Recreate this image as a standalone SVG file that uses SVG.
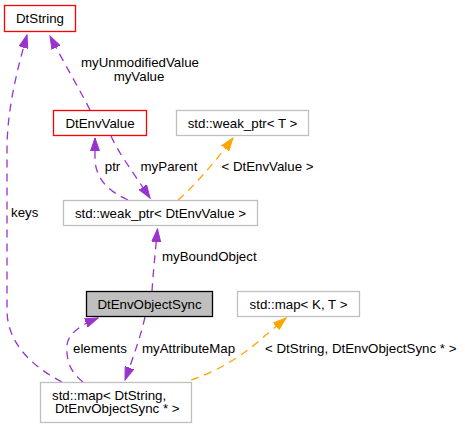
<svg xmlns="http://www.w3.org/2000/svg" width="465" height="429" viewBox="0 0 465 429">
<defs>
<style>
text{font-family:"Liberation Sans",Arial,sans-serif;font-size:13.3px;fill:#000}
.c{text-anchor:middle}
.box{fill:#fff;stroke:#bfbfbf;stroke-width:1.3}
.red{fill:#fff;stroke:#ff0000;stroke-width:1.3}
.cur{fill:#bfbfbf;stroke:#000;stroke-width:1.3}
.p{fill:none;stroke:#9a32cd;stroke-width:1.3;stroke-dasharray:8,6}
.o{fill:none;stroke:#ffa500;stroke-width:1.3;stroke-dasharray:8,6}
</style>
<marker id="ap" markerUnits="userSpaceOnUse" markerWidth="14" markerHeight="10" refX="13" refY="5" orient="auto" viewBox="0 0 14 10"><path d="M0,0.5 L13,5 L0,9.5 z" fill="#9a32cd" stroke="#9a32cd"/></marker>
<marker id="ao" markerUnits="userSpaceOnUse" markerWidth="14" markerHeight="10" refX="13" refY="5" orient="auto" viewBox="0 0 14 10"><path d="M0,0.5 L13,5 L0,9.5 z" fill="#ffa500" stroke="#ffa500"/></marker>
</defs>
<rect width="465" height="429" fill="#fff"/>
<g id="edges">
<path class="p" d="M90,110 C80,90 65,65 50,36" marker-end="url(#ap)"/>
<text class="c" x="140" y="66.5">myUnmodifiedValue</text>
<text class="c" x="139" y="80.5">myValue</text>
<path class="p" d="M62,382 C35,368 7,345 7,310 L7,150 C7,110 17,70 27,35" marker-end="url(#ap)"/>
<text x="11" y="217">keys</text>
<path class="p" d="M128,200 C110,192 96,180 95,160 L95,138" marker-end="url(#ap)"/>
<text class="c" x="112.5" y="171">ptr</text>
<path class="p" d="M111,136 C118,152 130,168 150,198" marker-end="url(#ap)"/>
<text class="c" x="169" y="171">myParent</text>
<path class="o" d="M178,200 C192,188 212,166 233,138" marker-end="url(#ao)"/>
<text class="c" x="267.5" y="171">&lt; DtEnvValue &gt;</text>
<path class="p" d="M152,291 C153,275 155,255 157.5,229" marker-end="url(#ap)"/>
<text x="162" y="261">myBoundObject</text>
<path class="p" d="M83,382 C70,372 66,360 67,345 C68,335 78,326 98,318" marker-end="url(#ap)"/>
<text x="73" y="353">elements</text>
<path class="p" d="M145,317 C141,335 134,355 125,380" marker-end="url(#ap)"/>
<text x="142" y="353">myAttributeMap</text>
<path class="o" d="M191,380 C215,372 240,358 260,340 L286,318" marker-end="url(#ao)"/>
<text x="265" y="353">&lt; DtString, DtEnvObjectSync * &gt;</text>
</g>
<g id="DtString">
<rect class="red" x="4.5" y="5.5" width="71" height="26"/>
<text class="c" x="40" y="23">DtString</text>
</g>
<g id="DtEnvValue">
<rect class="red" x="53.5" y="110.5" width="93" height="25"/>
<text class="c" x="100" y="127.5">DtEnvValue</text>
</g>
<g id="weak_ptr_T">
<rect class="box" x="176.5" y="110.5" width="132" height="25"/>
<text class="c" x="242.5" y="127.5">std::weak_ptr&lt; T &gt;</text>
</g>
<g id="weak_ptr_DtEnvValue">
<rect class="box" x="63.5" y="200.5" width="194" height="25"/>
<text class="c" x="160.5" y="217.5">std::weak_ptr&lt; DtEnvValue &gt;</text>
</g>
<g id="DtEnvObjectSync">
<rect class="cur" x="86.5" y="291.5" width="126" height="25"/>
<text class="c" x="149.5" y="308.5">DtEnvObjectSync</text>
</g>
<g id="map_K_T">
<rect class="box" x="237.5" y="291.5" width="122" height="25"/>
<text class="c" x="298.5" y="308.5">std::map&lt; K, T &gt;</text>
</g>
<g id="map_DtString">
<rect class="box" x="40.5" y="382.5" width="151" height="40"/>
<text x="52" y="399.5">std::map&lt; DtString,</text>
<text x="55" y="413">DtEnvObjectSync * &gt;</text>
</g>
</svg>
